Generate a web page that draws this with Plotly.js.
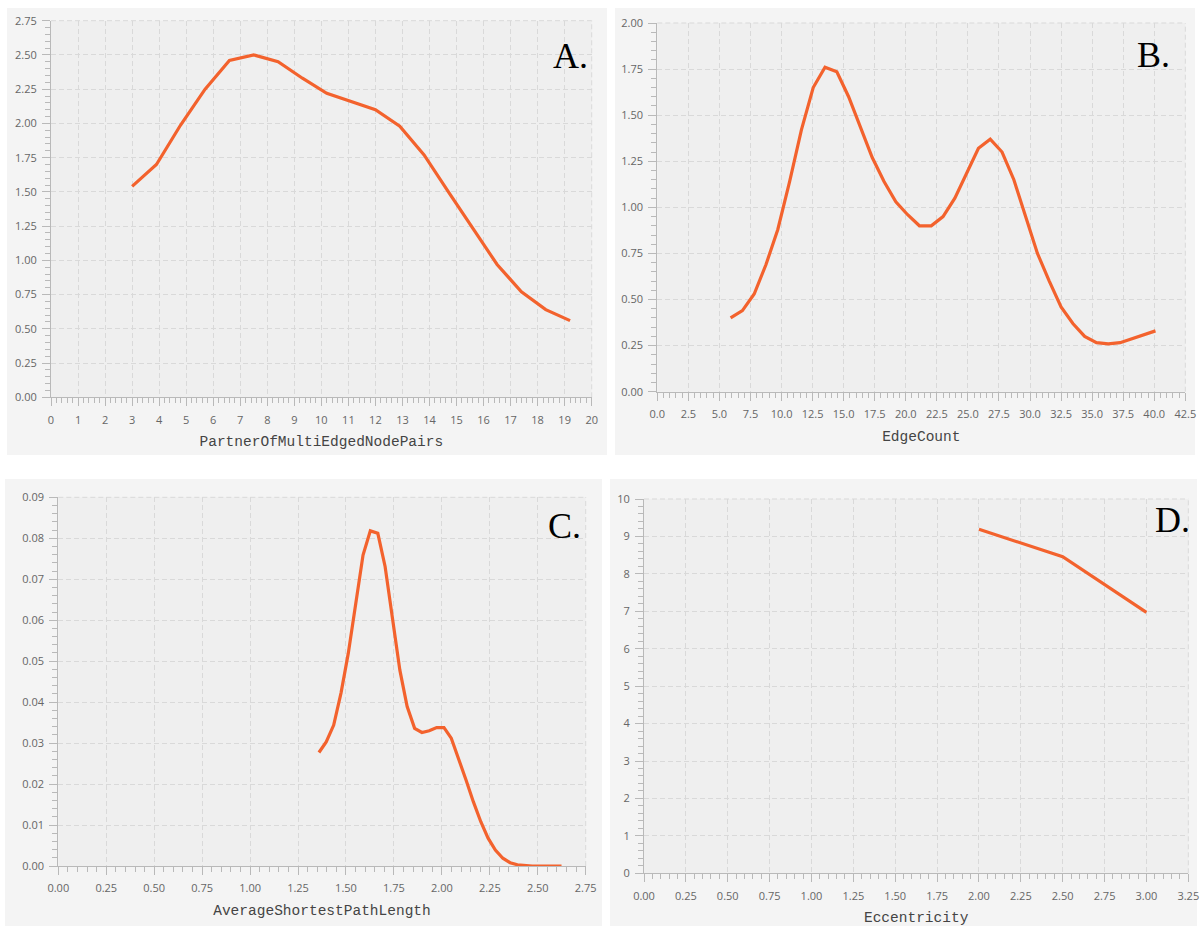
<!DOCTYPE html>
<html>
<head>
<meta charset="utf-8">
<script src="https://cdn.plot.ly/plotly-3.0.1.min.js"></script>
<style>
  html, body { margin: 0; padding: 0; background: #ffffff; }
  #chart { width: 1200px; height: 926px; }
</style>
</head>
<body>
<div id="chart"></div>
<script>
// ---------------- DATA ----------------
const panelLabels = ["A.", "B.", "C.", "D."];
const axisTitles = ["PartnerOfMultiEdgedNodePairs", "EdgeCount", "AverageShortestPathLength", "Eccentricity"];

const partnerX = [3.0, 3.9, 4.8, 5.7, 6.6, 7.5, 8.4, 9.3, 10.2, 11.1, 12.0, 12.9, 13.8, 14.7, 15.6, 16.5, 17.4, 18.3, 19.2];
const partnerY = [1.54, 1.70, 1.99, 2.25, 2.46, 2.50, 2.45, 2.33, 2.22, 2.16, 2.10, 1.98, 1.77, 1.50, 1.23, 0.97, 0.77, 0.64, 0.56];

const edgeX = [5.90, 6.85, 7.80, 8.75, 9.70, 10.65, 11.60, 12.55, 13.50, 14.45, 15.40, 16.35, 17.30, 18.25, 19.20, 20.15, 21.10, 22.05, 23.00, 23.95, 24.90, 25.85, 26.80, 27.75, 28.70, 29.65, 30.60, 31.55, 32.50, 33.45, 34.40, 35.35, 36.30, 37.25, 38.20, 39.15, 40.10];
const edgeY = [0.40, 0.44, 0.53, 0.69, 0.88, 1.14, 1.42, 1.65, 1.76, 1.735, 1.60, 1.43, 1.27, 1.14, 1.03, 0.96, 0.90, 0.90, 0.95, 1.05, 1.19, 1.32, 1.37, 1.30, 1.15, 0.95, 0.75, 0.60, 0.46, 0.37, 0.30, 0.266, 0.259, 0.266, 0.286, 0.307, 0.33];

const asplX = [1.359, 1.397, 1.436, 1.474, 1.512, 1.551, 1.589, 1.627, 1.666, 1.704, 1.743, 1.781, 1.819, 1.858, 1.896, 1.934, 1.973, 2.011, 2.049, 2.088, 2.126, 2.164, 2.203, 2.241, 2.279, 2.318, 2.356, 2.394, 2.433, 2.471, 2.509, 2.548, 2.586, 2.624];
const asplY = [0.0277, 0.0303, 0.0344, 0.0422, 0.0519, 0.0641, 0.0759, 0.0818, 0.0812, 0.0731, 0.0600, 0.0478, 0.0389, 0.0336, 0.0326, 0.0330, 0.0338, 0.0338, 0.0312, 0.0263, 0.0210, 0.0157, 0.0108, 0.0068, 0.0039, 0.0019, 0.0008, 0.0003, 0.0001, 0.0, 0.0, 0.0, 0.0, 0.0];

const eccX = [2.0, 2.5, 3.0];
const eccY = [9.19, 8.46, 6.97];

// ---------------- LAYOUT HELPERS ----------------
const W = 1200, H = 926;
const LINE_COLOR = "#f3622d";
const PANEL_BG = "#f4f4f4";
const PLOT_BG = "#efefef";
const GRID = "#d9d9d9";
const AXIS = "#b9b9b9";
const TICKFONT = { family: "Open Sans, Noto Sans, sans-serif", size: 11, color: "#666666" };
const TITLEFONT = { family: "Liberation Mono, Courier New, monospace", size: 14.5, color: "#444444" };

// pixel boxes: plot areas [left, top, right, bottom]
const plots = [
  { box: [51, 20.7, 591.7, 397.3], xr: [0, 20], yr: [0, 2.75], xd: 1, yd: 0.25, xm: 0.2, ym: 0.05, xf: "d", yf: ".2f" },
  { box: [657.3, 23, 1185.3, 391.7], xr: [0, 42.5], yr: [0, 2], xd: 2.5, yd: 0.25, xm: 0.5, ym: 0.05, xf: ".1f", yf: ".2f" },
  { box: [58.3, 497.3, 585.7, 866], xr: [0, 2.75], yr: [0, 0.09], xd: 0.25, yd: 0.01, xm: 0.05, ym: 0.002, xf: ".2f", yf: ".2f" },
  { box: [644, 499, 1188.3, 873.3], xr: [0, 3.25], yr: [0, 10], xd: 0.25, yd: 1, xm: 0.05, ym: 0.2, xf: ".2f", yf: "d" }
];
const panels = [
  [7, 8, 607, 455],
  [615, 8, 1195, 455],
  [5, 479, 602, 926],
  [610, 479, 1197, 926]
];
const labelPos = [[570, 56], [1153.5, 55], [564, 526], [1172, 520]];

const series = [[partnerX, partnerY], [edgeX, edgeY], [asplX, asplY], [eccX, eccY]];

const layout = {
  width: W, height: H,
  margin: { l: 0, r: 0, t: 0, b: 0 },
  paper_bgcolor: "#ffffff",
  plot_bgcolor: "rgba(0,0,0,0)",
  showlegend: false,
  shapes: [],
  annotations: []
};
const data = [];

plots.forEach((p, i) => {
  const n = i === 0 ? "" : String(i + 1);
  const [l, t, r, b] = p.box;
  layout["xaxis" + n] = {
    domain: [l / W, r / W],
    range: p.xr,
    anchor: "y" + n,
    tickmode: "linear", tick0: 0, dtick: p.xd,
    tickformat: p.xf,
    ticks: "outside", ticklen: 8, tickcolor: AXIS, tickwidth: 1,
    minor: { dtick: p.xm, tick0: 0, ticks: "outside", ticklen: 5, tickcolor: AXIS, showgrid: false },
    showline: true, linecolor: AXIS, linewidth: 1, mirror: false,
    showgrid: true, gridcolor: GRID, gridwidth: 1, griddash: "5px,3px",
    zeroline: false,
    tickfont: TICKFONT,
    ticklabelstandoff: 4,
    title: { text: axisTitles[i], font: TITLEFONT, standoff: 10 },
    fixedrange: true
  };
  layout["yaxis" + n] = {
    domain: [1 - b / H, 1 - t / H],
    range: p.yr,
    anchor: "x" + n,
    tickmode: "linear", tick0: 0, dtick: p.yd,
    tickformat: p.yf,
    ticks: "outside", ticklen: 8, tickcolor: AXIS, tickwidth: 1,
    minor: { dtick: p.ym, tick0: 0, ticks: "outside", ticklen: 5, tickcolor: AXIS, showgrid: false },
    showline: true, linecolor: AXIS, linewidth: 1, mirror: false,
    showgrid: true, gridcolor: GRID, gridwidth: 1, griddash: "5px,3px",
    zeroline: false,
    tickfont: TICKFONT,
    ticklabelstandoff: 3,
    fixedrange: true
  };
  const pn = panels[i];
  layout.shapes.push({
    type: "rect", xref: "paper", yref: "paper", layer: "below",
    x0: pn[0] / W, x1: pn[2] / W, y0: 1 - pn[3] / H, y1: 1 - pn[1] / H,
    fillcolor: PANEL_BG, line: { width: 0 }
  });
  layout.shapes.push({
    type: "rect", xref: "paper", yref: "paper", layer: "below",
    x0: l / W, x1: r / W, y0: 1 - b / H, y1: 1 - t / H,
    fillcolor: PLOT_BG, line: { width: 0 }
  });
  // dashed frame on top and right edges of the plot area
  layout.shapes.push({
    type: "line", xref: "x" + n + " domain", yref: "y" + n + " domain", layer: "below",
    x0: 0, x1: 1, y0: 1, y1: 1,
    line: { color: GRID, width: 1, dash: "5px,3px" }
  });
  layout.shapes.push({
    type: "line", xref: "x" + n + " domain", yref: "y" + n + " domain", layer: "below",
    x0: 1, x1: 1, y0: 0, y1: 1,
    line: { color: GRID, width: 1, dash: "5px,3px" }
  });
  layout.annotations.push({
    xref: "paper", yref: "paper",
    x: labelPos[i][0] / W, y: 1 - labelPos[i][1] / H,
    xanchor: "center", yanchor: "middle",
    text: panelLabels[i], showarrow: false,
    font: { family: "Liberation Serif, Times New Roman, serif", size: 36, color: "#000000" }
  });
  data.push({
    type: "scatter", mode: "lines",
    x: series[i][0], y: series[i][1],
    xaxis: "x" + n, yaxis: "y" + n,
    line: { color: LINE_COLOR, width: 3.2 },
    hoverinfo: "x+y"
  });
});

Plotly.newPlot("chart", data, layout, { displayModeBar: false, staticPlot: true });
</script>
</body>
</html>
